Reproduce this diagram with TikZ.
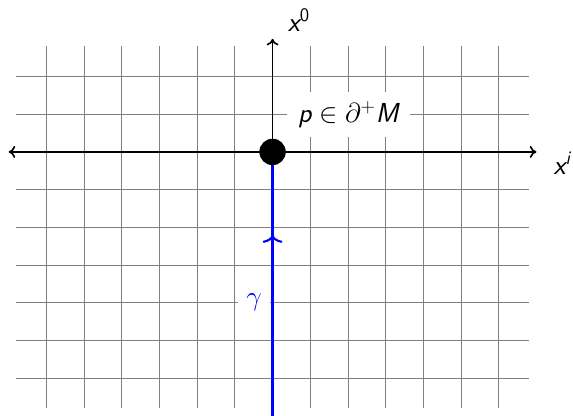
\documentclass[tikz,border=0pt]{standalone}
\usepackage{amsmath}
\usetikzlibrary{arrows.meta,decorations.markings}
\newcommand{\sfit}[1]{\text{\sffamily\itshape #1}}
\newcommand{\sfup}[1]{\text{\sffamily #1}}
\tikzset{
  gridline/.style={gray, line width=0.65pt},
  axisline/.style={black, line width=1.25pt, >={To[length=5pt,width=9pt]}},
  curveline/.style={blue, line width=2.8pt},
  lbl/.style={font=\huge, inner sep=2pt},
}
\begin{document}
\begin{tikzpicture}
\useasboundingbox (-7.23,-6.98) rectangle (7.97,4.03);
\draw[gridline, step=1] (-6.8,-6.8) grid (6.8,2.8);
\coordinate (L) at (-7,0);
\coordinate (R) at (7,0);
\coordinate (O) at (0,0);
\coordinate (T) at (0,3);
\coordinate (B) at (0,-7.1);
\draw[axisline, <->] (L) -- (R);
\draw[axisline, ->] (O) -- (T);
\node[lbl, anchor=base west] (x0) at (0.33,3.19) {$\sfit{x}^{\sfup{0}}$};
\node[lbl, anchor=base west] (xi) at (7.38,-0.61) {$\sfit{x}^{\sfit{i}}$};
\node[lbl, fill=white, inner sep=0pt, minimum width=3.27cm, minimum height=1.19cm] (p) at (2.01,1) {$\sfit{p}\in\partial^{+}\sfit{M}$};
\node[lbl, fill=white, text=blue, inner sep=0pt, minimum width=0.86cm, minimum height=0.8cm] (g) at (-0.49,-3.98) {$\gamma$};
\draw[curveline, postaction={decorate}, decoration={markings, mark=at position 0.69 with {\arrow[line width=1.6pt]{To[length=6pt,width=15pt]}}}] (B) -- (O);
\fill[black] (O) circle (0.35);
\end{tikzpicture}
\end{document}
